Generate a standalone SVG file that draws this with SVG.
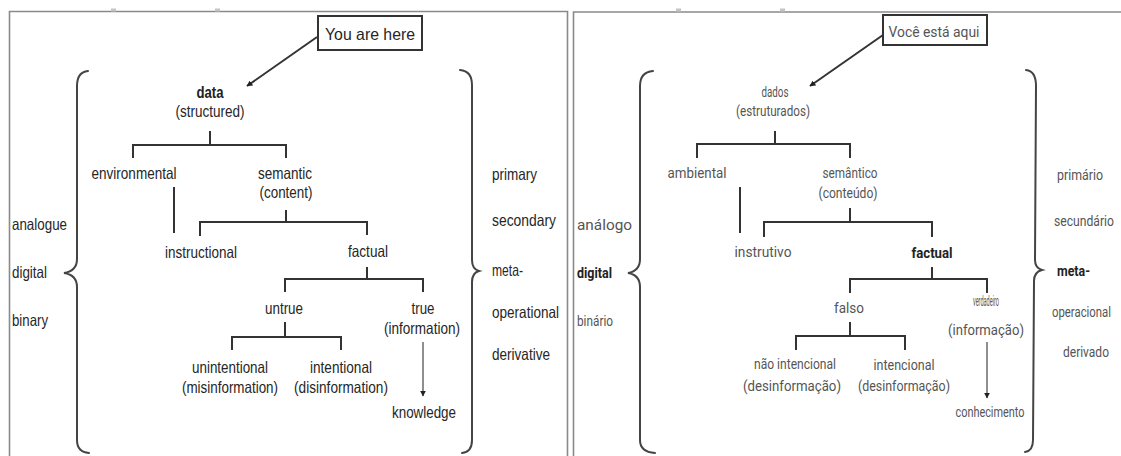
<svg xmlns="http://www.w3.org/2000/svg" width="1121" height="456" viewBox="0 0 1121 456">
  <style>
    .frame { fill: none; stroke: #8a8a8a; stroke-width: 1.6; }
    .tick { stroke: #c4c4c4; stroke-width: 3; }
    .edge { fill: none; stroke: #333; stroke-width: 2; }
    .thin { fill: none; stroke: #444; stroke-width: 1.2; }
    .brace { fill: none; stroke: #444; stroke-width: 2; stroke-linecap: round; }
    .box { fill: #fff; stroke: #333; stroke-width: 2; }
    .en { font-family: "Liberation Sans", Arial, sans-serif; font-size: 16.5px; fill: #262626; }
    .pt { font-family: Roboto, "Noto Sans", sans-serif; font-size: 14px; fill: #555; }
    .mid { text-anchor: middle; }
    .strong { font-weight: bold; fill: #222; }
  </style>
  <defs>
    <marker id="head" viewBox="0 0 10 10" refX="9" refY="5" markerWidth="6" markerHeight="6" markerUnits="userSpaceOnUse" orient="auto">
      <path d="M0,0 L10,5 L0,10 Z" fill="#222"/>
    </marker>
  </defs>
  <rect width="1121" height="456" fill="#fff"/>

  <!-- panel frames -->
  <g id="frames">
    <path class="frame" d="M9.5,456 V11.5 H567.5 V456"/>
    <path class="frame" d="M573.5,456 V12 H1121"/>
    <line class="tick" x1="111" y1="10" x2="116" y2="10"/>
    <line class="tick" x1="215" y1="10" x2="220" y2="10"/>
    <line class="tick" x1="676" y1="10" x2="681" y2="10"/>
    <line class="tick" x1="780" y1="10" x2="785" y2="10"/>
  </g>

  <!-- English panel -->
  <g id="connectors-en">
    <path class="edge" d="M317,37 L247,86" marker-end="url(#head)"/>
    <path class="edge" d="M210,131 V145"/>
    <path class="edge" d="M133,158 V145 H286 V158"/>
    <path class="edge" d="M174,187 V233"/>
    <path class="edge" d="M286,210 V222"/>
    <path class="edge" d="M200,236 V222 H367 V235"/>
    <path class="edge" d="M367,267 V279"/>
    <path class="edge" d="M285,292 V279 H423 V292"/>
    <path class="edge" d="M285,322 V337"/>
    <path class="edge" d="M232,350 V337 H341 V350"/>
    <path class="thin" d="M423,342 V396" marker-end="url(#head)"/>
  </g>
  <g id="braces-en">
    <path class="brace" d="M88,71 Q77,72 77,86 L77,259 Q77,271 64,273 Q77,275 77,287 L77,440 Q77,452 89,453"/>
    <path class="brace" d="M460,70 Q472,71 472,85 L472,260 Q472,269 479,271 Q472,273 472,282 L472,440 Q472,452 462,453"/>
  </g>
  <g id="you-are-here">
    <rect class="box" x="318" y="16" width="104" height="34"/>
    <text class="en mid" x="370" y="40" font-size="20" textLength="90" lengthAdjust="spacingAndGlyphs">You are here</text>
  </g>
  <g id="data">
    <text class="en mid strong" x="210" y="98" textLength="27" lengthAdjust="spacingAndGlyphs">data</text>
    <text class="en mid" x="210" y="117" textLength="69" lengthAdjust="spacingAndGlyphs">(structured)</text>
  </g>
  <g id="environmental">
    <text class="en mid" x="134" y="179" textLength="85" lengthAdjust="spacingAndGlyphs">environmental</text>
  </g>
  <g id="semantic">
    <text class="en mid" x="285" y="179" textLength="54" lengthAdjust="spacingAndGlyphs">semantic</text>
    <text class="en mid" x="286" y="198" textLength="53" lengthAdjust="spacingAndGlyphs">(content)</text>
  </g>
  <g id="instructional">
    <text class="en mid" x="201" y="258" textLength="72" lengthAdjust="spacingAndGlyphs">instructional</text>
  </g>
  <g id="factual">
    <text class="en mid" x="368" y="257" textLength="40" lengthAdjust="spacingAndGlyphs">factual</text>
  </g>
  <g id="untrue">
    <text class="en mid" x="284" y="314" textLength="38" lengthAdjust="spacingAndGlyphs">untrue</text>
  </g>
  <g id="true-information">
    <text class="en mid" x="423" y="314" textLength="23" lengthAdjust="spacingAndGlyphs">true</text>
    <text class="en mid" x="422" y="334" textLength="76" lengthAdjust="spacingAndGlyphs">(information)</text>
  </g>
  <g id="unintentional">
    <text class="en mid" x="230" y="373" textLength="76" lengthAdjust="spacingAndGlyphs">unintentional</text>
    <text class="en mid" x="230" y="393" textLength="96" lengthAdjust="spacingAndGlyphs">(misinformation)</text>
  </g>
  <g id="intentional">
    <text class="en mid" x="341" y="373" textLength="62" lengthAdjust="spacingAndGlyphs">intentional</text>
    <text class="en mid" x="341" y="393" textLength="94" lengthAdjust="spacingAndGlyphs">(disinformation)</text>
  </g>
  <g id="knowledge">
    <text class="en mid" x="424" y="418" textLength="64" lengthAdjust="spacingAndGlyphs">knowledge</text>
  </g>
  <g id="forms-en">
    <text class="en" x="12" y="230" textLength="55" lengthAdjust="spacingAndGlyphs">analogue</text>
    <text class="en" x="12" y="278" textLength="35" lengthAdjust="spacingAndGlyphs">digital</text>
    <text class="en" x="12" y="326" textLength="36" lengthAdjust="spacingAndGlyphs">binary</text>
  </g>
  <g id="types-en">
    <text class="en" x="492" y="180" textLength="45" lengthAdjust="spacingAndGlyphs">primary</text>
    <text class="en" x="492" y="226" textLength="64" lengthAdjust="spacingAndGlyphs">secondary</text>
    <text class="en" x="492" y="276" textLength="31" lengthAdjust="spacingAndGlyphs">meta-</text>
    <text class="en" x="492" y="318" textLength="67" lengthAdjust="spacingAndGlyphs">operational</text>
    <text class="en" x="492" y="360" textLength="58" lengthAdjust="spacingAndGlyphs">derivative</text>
  </g>

  <!-- Portuguese panel -->
  <g id="connectors-pt">
    <path class="edge" d="M883,35 L810,86" marker-end="url(#head)"/>
    <path class="edge" d="M775,131 V144"/>
    <path class="edge" d="M697,158 V144 H850 V158"/>
    <path class="edge" d="M740,187 V233"/>
    <path class="edge" d="M850,208 V222"/>
    <path class="edge" d="M764,237 V222 H932 V237"/>
    <path class="edge" d="M932,267 V279"/>
    <path class="edge" d="M850,293 V279 H987 V293"/>
    <path class="edge" d="M850,322 V336"/>
    <path class="edge" d="M796,350 V336 H905 V350"/>
    <path class="thin" d="M987,342 V398" marker-end="url(#head)"/>
  </g>
  <g id="braces-pt">
    <path class="brace" d="M653,71 Q640,72 640,86 L640,259 Q640,271 628,273 Q640,275 640,287 L640,440 Q640,452 655,453"/>
    <path class="brace" d="M1026,70 Q1036,71 1036,86 L1035,260 Q1035,268 1042,270 Q1034,272 1034,281 L1033,440 Q1033,451 1025,452"/>
  </g>
  <g id="voce-esta-aqui">
    <rect class="box" x="883" y="15" width="104" height="30"/>
    <text class="pt mid" x="934" y="37" font-size="16" fill="#333" textLength="91" lengthAdjust="spacingAndGlyphs">Você está aqui</text>
  </g>
  <g id="dados">
    <text class="pt mid" x="775" y="97" font-size="12" textLength="27" lengthAdjust="spacingAndGlyphs">dados</text>
    <text class="pt mid" x="773" y="116" font-size="13" textLength="74" lengthAdjust="spacingAndGlyphs">(estruturados)</text>
  </g>
  <g id="ambiental">
    <text class="pt mid" x="697" y="178" font-size="15" textLength="59" lengthAdjust="spacingAndGlyphs">ambiental</text>
  </g>
  <g id="semantico">
    <text class="pt mid" x="850" y="178" font-size="13" textLength="55" lengthAdjust="spacingAndGlyphs">semântico</text>
    <text class="pt mid" x="848" y="198" font-size="13" textLength="59" lengthAdjust="spacingAndGlyphs">(conteúdo)</text>
  </g>
  <g id="instrutivo">
    <text class="pt mid" x="763" y="257" textLength="57" lengthAdjust="spacingAndGlyphs">instrutivo</text>
  </g>
  <g id="factual-pt">
    <text class="pt mid strong" x="932" y="258" textLength="41" lengthAdjust="spacingAndGlyphs">factual</text>
  </g>
  <g id="falso">
    <text class="pt mid" x="849" y="313" textLength="30" lengthAdjust="spacingAndGlyphs">falso</text>
  </g>
  <g id="verdadeiro-informacao">
    <text class="pt mid" x="986" y="306" font-size="5" textLength="26" lengthAdjust="spacingAndGlyphs">verdadeiro</text>
    <text class="pt mid" x="986" y="335" font-size="15" textLength="76" lengthAdjust="spacingAndGlyphs">(informação)</text>
  </g>
  <g id="nao-intencional">
    <text class="pt mid" x="795" y="369" font-size="13" textLength="82" lengthAdjust="spacingAndGlyphs">não intencional</text>
    <text class="pt mid" x="792" y="391" font-size="15" textLength="98" lengthAdjust="spacingAndGlyphs">(desinformação)</text>
  </g>
  <g id="intencional">
    <text class="pt mid" x="904" y="370" font-size="14" textLength="61" lengthAdjust="spacingAndGlyphs">intencional</text>
    <text class="pt mid" x="904" y="391" font-size="14" textLength="92" lengthAdjust="spacingAndGlyphs">(desinformação)</text>
  </g>
  <g id="conhecimento">
    <text class="pt mid" x="990" y="417" font-size="12.5" textLength="69" lengthAdjust="spacingAndGlyphs">conhecimento</text>
  </g>
  <g id="forms-pt">
    <text class="pt" x="577" y="230" font-size="16" textLength="55" lengthAdjust="spacingAndGlyphs">análogo</text>
    <text class="pt strong" x="577" y="278" textLength="35" lengthAdjust="spacingAndGlyphs">digital</text>
    <text class="pt" x="577" y="326" font-size="13" textLength="36" lengthAdjust="spacingAndGlyphs">binário</text>
  </g>
  <g id="types-pt">
    <text class="pt" x="1057" y="180" textLength="46" lengthAdjust="spacingAndGlyphs">primário</text>
    <text class="pt" x="1054" y="226" font-size="12.5" textLength="60" lengthAdjust="spacingAndGlyphs">secundário</text>
    <text class="pt strong" x="1057" y="276" textLength="33" lengthAdjust="spacingAndGlyphs">meta-</text>
    <text class="pt" x="1052" y="317" font-size="12" textLength="59" lengthAdjust="spacingAndGlyphs">operacional</text>
    <text class="pt" x="1063" y="357" font-size="14" textLength="46" lengthAdjust="spacingAndGlyphs">derivado</text>
  </g>
</svg>
